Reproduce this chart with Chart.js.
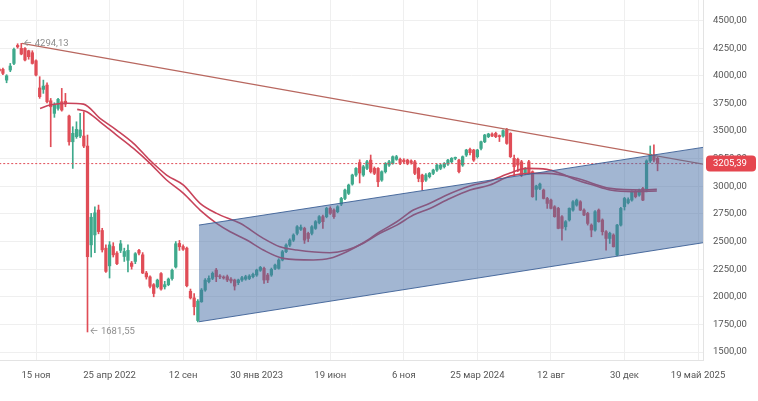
<!DOCTYPE html>
<html>
<head>
<meta charset="utf-8">
<script src="https://cdn.jsdelivr.net/npm/chart.js@4.4.1/dist/chart.umd.min.js"></script>
<style>
html, body { margin: 0; padding: 0; background: #fff; }
</style>
</head>
<body>
<canvas id="chart" width="758" height="401"></canvas>
<script>
// Weekly candles, index 0 = week of 6 Sep 2021 (exchange closed Mar 2022, so that gap has no candles)
var openVals = [4060,4058,3961,4052,4112,4275,4248,4248,4227,4209,4136,3890,3877,3916,3774,3660,3705,3765,3770,3636,
    3403,3449,3455,3455,3364,2470,2560,2785,2600,2440,2280,2455,2395,2420,2365,2330,2305,2320,2420,2380,
    2215,2180,2110,2091,2210,2090,2110,2165,2270,2483,2455,2440,2050,1990,1785,1955,2061,2137,2167,2242,
    2182,2178,2182,2160,2152,2128,2152,2160,2165,2182,2197,2240,2257,2197,2197,2257,2257,2333,2408,2468,
    2513,2574,2610,2619,2574,2574,2619,2670,2725,2725,2800,2785,2770,2839,2890,2936,3020,3102,3215,3102,
    3162,3237,3162,3162,3056,3132,3192,3207,3244,3244,3237,3237,3230,3222,3162,3102,3056,3087,3117,3147,
    3162,3177,3201,3222,3253,3237,3192,3283,3334,3328,3268,3343,3403,3449,3473,3479,3455,3455,3515,3479,
    3253,3244,3222,3117,3222,3132,2972,2981,2966,2890,2875,2815,2800,2725,2634,2695,2785,2830,2860,2785,
    2755,2649,2604,2785,2695,2589,2528,2559,2378,2649,2815,2850,2875,2951,2920,2981,2966,3230,3283,3253];
var highVals = [4075,4070,4010,4112,4250,4290,4294.13,4255,4232,4227,4145,3992,3961,3937,3795,3756,3795,3886,3841,3645,
    3539,3584,3660,3675,3464,2755,2815,2830,2620,2470,2500,2490,2410,2510,2440,2470,2320,2400,2430,2400,
    2230,2190,2120,2160,2220,2140,2170,2250,2500,2510,2470,2450,2070,2030,1975,2075,2165,2190,2225,2257,
    2200,2190,2197,2175,2160,2160,2185,2195,2200,2215,2250,2275,2270,2212,2260,2295,2345,2420,2480,2525,
    2570,2645,2650,2630,2585,2645,2690,2735,2740,2810,2815,2795,2825,2900,2975,3020,3110,3170,3240,3190,
    3235,3283,3175,3170,3140,3215,3235,3275,3280,3255,3250,3245,3240,3235,3170,3110,3115,3125,3155,3200,
    3200,3215,3245,3260,3265,3245,3275,3335,3345,3335,3335,3410,3470,3480,3485,3490,3465,3510,3524,3485,
    3283,3255,3235,3170,3235,3140,3010,3030,2975,2900,2885,2825,2810,2735,2690,2805,2870,2885,2870,2795,
    2765,2660,2780,2795,2705,2600,2585,2570,2655,2810,2900,2895,2960,2965,2975,2990,3240,3365,3375,3265];
var lowVals = [4030,4010,3937,4037,4100,4250,4190,4135,4150,4106,4000,3796,3841,3755,3358,3624,3690,3680,3720,3373,
    3162,3434,3440,3350,1681.55,2360,2400,2570,2405,2220,2170,2360,2290,2400,2320,2225,2250,2300,2380,2210,
    2160,2080,2000,2080,2060,2070,2100,2150,2260,2420,2420,2090,1980,1835,1772,1950,2050,2125,2155,2137,
    2165,2160,2137,2125,2061,2110,2140,2150,2155,2170,2185,2230,2122,2128,2185,2245,2250,2325,2400,2455,
    2500,2560,2600,2483,2498,2560,2610,2660,2619,2715,2745,2710,2760,2825,2880,2925,3010,3090,3030,3090,
    3150,3120,3105,2996,3045,3120,3180,3200,3235,3195,3210,3195,3200,3105,3041,2966,3045,3075,3105,3135,
    3150,3165,3190,3210,3240,3120,3180,3270,3283,3225,3255,3330,3395,3440,3450,3440,3405,3445,3380,3260,
    3102,3132,3087,3105,3110,2900,2875,2970,2885,2800,2795,2720,2615,2513,2604,2685,2775,2820,2780,2735,
    2649,2543,2595,2675,2559,2423,2483,2450,2372,2640,2785,2840,2865,2895,2910,2870,2950,3215,3220,3140];
var closeVals = [4045,4022,4000,4088,4239,4262,4197,4143,4173,4112,4007,3811,3907,3765,3720,3735,3787,3690,3744,3403,
    3479,3515,3510,3364,2363,2720,2760,2590,2425,2230,2470,2380,2300,2480,2410,2420,2275,2390,2395,2215,
    2180,2095,2030,2151,2070,2110,2160,2240,2480,2453,2430,2100,1990,1910,1960,2061,2151,2167,2212,2182,
    2180,2170,2152,2143,2097,2152,2173,2182,2188,2203,2242,2266,2152,2152,2248,2287,2333,2408,2468,2513,
    2559,2634,2630,2513,2528,2634,2680,2725,2680,2800,2755,2725,2815,2890,2966,3011,3102,3162,3120,3177,
    3222,3132,3117,3041,3132,3207,3222,3268,3268,3207,3222,3207,3215,3117,3071,3041,3102,3117,3147,3192,
    3192,3207,3237,3253,3255,3132,3268,3328,3304,3237,3328,3403,3464,3473,3455,3449,3450,3503,3388,3268,
    3177,3192,3102,3162,3117,2906,3002,3020,2890,2845,2800,2725,2619,2619,2680,2800,2860,2875,2785,2740,
    2664,2604,2770,2680,2589,2528,2574,2453,2649,2800,2890,2880,2951,2906,2966,2875,3230,3290,3237,3205.39];

// moving averages (candle index, value)
var ma1X = [11.1,13.8,18.4,22.9,27.4,31.9,36.5,41.0,45.5,50.1,54.6,59.1,65.5,71.8,76.3,80.9,89.9,94.5,99.0,103.5,
    108.1,112.6,117.1,121.7,128.0,133.4,138.9,144.3,148.9,157.0,166.1,175.1,178.8];
var ma1Y = [3705,3735,3751,3744,3615,3509,3389,3235,3102,3011,2846,2755,2665,2529,2453,2423,2399,2423,2484,2574,
    2649,2740,2800,2876,2966,3011,3093,3117,3117,3072,2981,2966,2972];
var ma2X = [21.2,23.8,27.4,31.9,36.5,41.0,45.5,50.1,54.6,59.1,62.8,67.3,71.8,77.2,85.4,89.9,94.5,99.0,103.5,108.1,
    112.6,117.1,121.7,128.0,133.4,138.9,143.4,148.9,152.5,157.0,161.5,166.1,172.4,178.8];
var ma2Y = [3696,3675,3584,3464,3343,3208,3057,2936,2785,2665,2589,2514,2423,2348,2333,2348,2408,2489,2589,2679,
    2785,2846,2921,3002,3048,3120,3162,3153,3117,3057,3011,2966,2951,2957];

// drawn lines: falling resistance, rising channel, last price
var trendX = [6.2, 191.5];
var trendY = [4294.13, 3199];
var channelX = [54.3, 191.5];
var channelTop = [2649, 3353];
var channelBottom = [1774, 2490];
var lastPrice = 3205.39;

var xTickIdx = [10, 30, 50, 70, 90, 110, 130, 150, 170, 190];
var xTickLabels = ['15 ноя', '25 апр 2022', '12 сен', '30 янв 2023', '19 июн', '6 ноя', '25 мар 2024', '12 авг', '30 дек', '19 май 2025'];
var yTickVals = [1500, 1750, 2000, 2250, 2500, 2750, 3000, 3250, 3500, 3750, 4000, 4250, 4500];

var green = '#3fa98c';
var red = '#e04d57';
var fontFamily = 'Roboto, Inter, sans-serif';
var fmt = v => v.toFixed(2).replace('.', ',');

var candleColors = closeVals.map((c, i) => c >= openVals[i] ? green : red);
var toPts = (xs, ys) => xs.map((x, i) => ({ x: x, y: ys[i] }));

Chart.defaults.font.family = fontFamily;
Chart.defaults.font.size = 9.5;

var overlay = {
    id: 'overlay',
    afterDraw: function (chart) {
        var ctx = chart.ctx;
        var xs = chart.scales.x, ys = chart.scales.y;
        ctx.save();
        ctx.font = '9.5px ' + fontFamily;
        ctx.textBaseline = 'middle';
        ctx.fillStyle = '#8d8d8d';
        // extreme marks
        var hiIdx = highVals.indexOf(Math.max(...highVals));
        var loIdx = lowVals.indexOf(Math.min(...lowVals));
        ctx.fillText('← ' + fmt(highVals[hiIdx]), xs.getPixelForValue(hiIdx) + 2, ys.getPixelForValue(highVals[hiIdx]));
        ctx.fillText('← ' + fmt(lowVals[loIdx]), xs.getPixelForValue(loIdx) + 2, ys.getPixelForValue(lowVals[loIdx]));

        // last price tag on the axis
        var py = ys.getPixelForValue(lastPrice);
        var bx = chart.chartArea.right + 3;
        ctx.fillStyle = '#e5464f';
        ctx.beginPath();
        ctx.roundRect(bx, py - 8, 50, 16, 4);
        ctx.fill();
        ctx.fillStyle = '#ffffff';
        ctx.fillText(fmt(lastPrice), bx + 7, py + 0.5);
        ctx.restore();
    }
};

new Chart(document.getElementById('chart'), {
    type: 'bar',
    data: {
        datasets: [
            {
                type: 'line',
                data: toPts(channelX, channelTop),
                borderColor: 'rgba(60, 95, 150, 0.9)',
                borderWidth: 1,
                backgroundColor: 'rgba(70, 110, 165, 0.5)',
                fill: '+1',
                pointRadius: 0,
                order: 0
            },
            {
                type: 'line',
                data: toPts(channelX, channelBottom),
                borderColor: 'rgba(60, 95, 150, 0.9)',
                borderWidth: 1,
                fill: false,
                pointRadius: 0,
                order: -1
            },
            {
                type: 'line',
                data: toPts(trendX, trendY),
                borderColor: '#b8675f',
                borderWidth: 1.3,
                fill: false,
                pointRadius: 0,
                order: 1
            },
            {
                type: 'line',
                data: toPts([0, 191.5], [lastPrice, lastPrice]),
                borderColor: '#e04d57',
                borderWidth: 1,
                borderDash: [2, 2],
                fill: false,
                pointRadius: 0,
                order: 1
            },
            {
                type: 'line',
                data: toPts(ma1X, ma1Y),
                borderColor: '#c8435a',
                borderWidth: 1.6,
                cubicInterpolationMode: 'monotone',
                fill: false,
                pointRadius: 0,
                order: 1
            },
            {
                type: 'line',
                data: toPts(ma2X, ma2Y),
                borderColor: '#c8435a',
                borderWidth: 1.6,
                cubicInterpolationMode: 'monotone',
                fill: false,
                pointRadius: 0,
                order: 1
            },
            {
                data: closeVals.map((c, i) => ({ x: i, y: [openVals[i], c] })),
                backgroundColor: candleColors,
                barThickness: 2.6,
                minBarLength: 1,
                grouped: false,
                order: 2
            },
            {
                data: closeVals.map((c, i) => ({ x: i, y: [lowVals[i], highVals[i]] })),
                backgroundColor: candleColors,
                barThickness: 1,
                grouped: false,
                order: 3
            }
        ]
    },
    options: {
        responsive: false,
        animation: false,
        layout: { padding: 0 },
        plugins: {
            legend: { display: false },
            tooltip: { enabled: false }
        },
        scales: {
            x: {
                type: 'linear',
                min: 0.21,
                max: 191.35,
                offset: false,
                grid: { color: '#efefef', drawTicks: false, offset: false },
                border: { display: true, color: '#e3e3e3' },
                afterBuildTicks: function (scale) {
                    scale.ticks = xTickIdx.map(v => ({ value: v }));
                },
                afterFit: function (scale) {
                    scale.height = 41;
                    scale.paddingLeft = 0;
                    scale.paddingRight = 0;
                },
                ticks: {
                    color: '#555',
                    padding: 10,
                    maxRotation: 0,
                    autoSkip: false,
                    callback: function (value) {
                        var k = xTickIdx.indexOf(value);
                        return k >= 0 ? xTickLabels[k] : '';
                    }
                }
            },
            y: {
                position: 'right',
                min: 1428,
                max: 4686,
                grid: { color: '#efefef', drawTicks: false },
                border: { display: true, color: '#e3e3e3' },
                afterBuildTicks: function (scale) {
                    scale.ticks = yTickVals.map(v => ({ value: v }));
                },
                afterFit: function (scale) {
                    scale.width = 55;
                    scale.paddingTop = 0;
                    scale.paddingBottom = 0;
                },
                ticks: {
                    color: '#555',
                    padding: 10,
                    callback: function (value) { return fmt(value); }
                }
            }
        }
    },
    plugins: [overlay]
});
</script>
</body>
</html>
